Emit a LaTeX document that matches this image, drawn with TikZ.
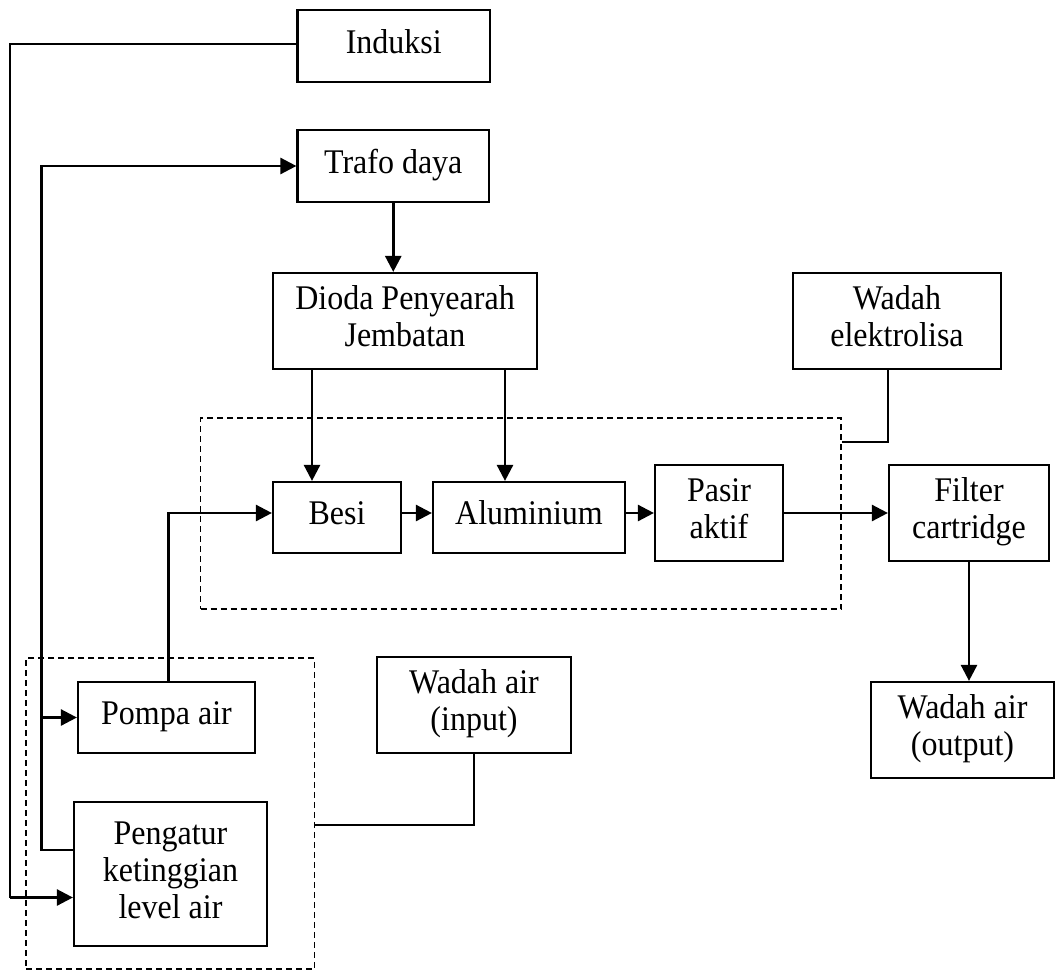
\documentclass[tikz,border=0pt]{standalone}
\usepackage{fontspec}
\setmainfont{Liberation Serif}
\usetikzlibrary{arrows.meta}
\newcommand\vtxt[1]{\raisebox{-2pt}{\scalebox{1}[1.08]{\begin{tabular}{@{}c@{}}#1\end{tabular}}}}
\begin{document}
\begin{tikzpicture}[x=1pt,y=-1pt,
  blk/.style={draw,line width=2.2pt,rectangle,inner sep=0pt,align=center,
    font=\fontsize{32}{34.3}\selectfont},
  grp/.style={draw,dash pattern=on 6pt off 4pt,line width=1.8pt,rectangle,inner sep=0pt},
  conn/.style={line width=2.4pt},
  arr/.style={line width=2.6pt,-{Triangle[length=16pt,width=16pt]}}]
\useasboundingbox (0,0) rectangle (1059,971);
% group boxes
\node[grp,minimum width=640.5pt,minimum height=191pt] (grp1) at (520.75,513.5) {};
\node[grp,minimum width=288.5pt,minimum height=311pt] (grp2) at (170.25,813.5) {};
% blocks
\node[blk,minimum width=192.5pt,minimum height=72pt] (ind) at (393.75,46) {\vtxt{Induksi}};
\node[blk,minimum width=191.5pt,minimum height=72pt] (trafo) at (393.25,166) {\vtxt{Trafo daya}};
\node[blk,minimum width=264pt,minimum height=96pt] (dioda) at (405,321) {\vtxt{Dioda Penyearah\\Jembatan}};
\node[blk,minimum width=208pt,minimum height=96pt] (elek) at (897,321) {\vtxt{Wadah\\elektrolisa}};
\node[blk,minimum width=128pt,minimum height=71pt] (besi) at (337,517.5) {\vtxt{Besi}};
\node[blk,minimum width=192pt,minimum height=71pt] (alu) at (529,517.5) {\vtxt{Aluminium}};
\node[blk,minimum width=128pt,minimum height=96pt] (pasir) at (719,513) {\vtxt{Pasir\\aktif}};
\node[blk,minimum width=160pt,minimum height=96pt] (filter) at (969,513) {\vtxt{Filter\\cartridge}};
\node[blk,minimum width=183pt,minimum height=96pt] (wout) at (962.5,730) {\vtxt{Wadah air\\(output)}};
\node[blk,minimum width=177pt,minimum height=71pt] (pompa) at (166.5,717.5) {\vtxt{Pompa air}};
\node[blk,minimum width=193pt,minimum height=144pt] (peng) at (170.5,874) {\vtxt{Pengatur\\ketinggian\\level air}};
\node[blk,minimum width=194pt,minimum height=96pt] (win) at (474,705) {\vtxt{Wadah air\\(input)}};
% helper coordinates
\coordinate (c0) at (10,44);
\coordinate (c1) at (10,897.5);
\coordinate (c2) at (41.6,850);
\coordinate (mid) at (0,513);
\coordinate (p1) at (168.5,0);
\coordinate (d1) at (312,369);
\coordinate (d2) at (505,369);
\coordinate (e1) at (888,442);
\coordinate (w1) at (474,825);
% connectors
\draw[conn] (c0 -| ind.west) -- (c0) -- (c1);
\draw[arr] (c1) -- (c1 -| peng.west);
\draw[arr] (c2 -| peng.west) -- (c2) |- (trafo.west);
\draw[arr] (c2 |- pompa.west) -- (pompa.west);
\draw[arr] (trafo.south) -- (trafo.south |- dioda.north);
\draw[arr] (d1) -- (d1 |- besi.north);
\draw[arr] (d2) -- (d2 |- alu.north);
\draw[conn] (e1 |- elek.south) -- (e1) -- (e1 -| grp1.east);
\draw[arr] (p1 |- pompa.north) |- (besi.west |- mid);
\draw[arr] (besi.east |- mid) -- (alu.west |- mid);
\draw[arr] (alu.east |- mid) -- (pasir.west |- mid);
\draw[arr] (pasir.east |- mid) -- (filter.west |- mid);
\draw[arr] (filter.south) -- (filter.south |- wout.north);
\draw[conn] (win.south) -- (w1) -- (w1 -| grp2.east);
\end{tikzpicture}
\end{document}
